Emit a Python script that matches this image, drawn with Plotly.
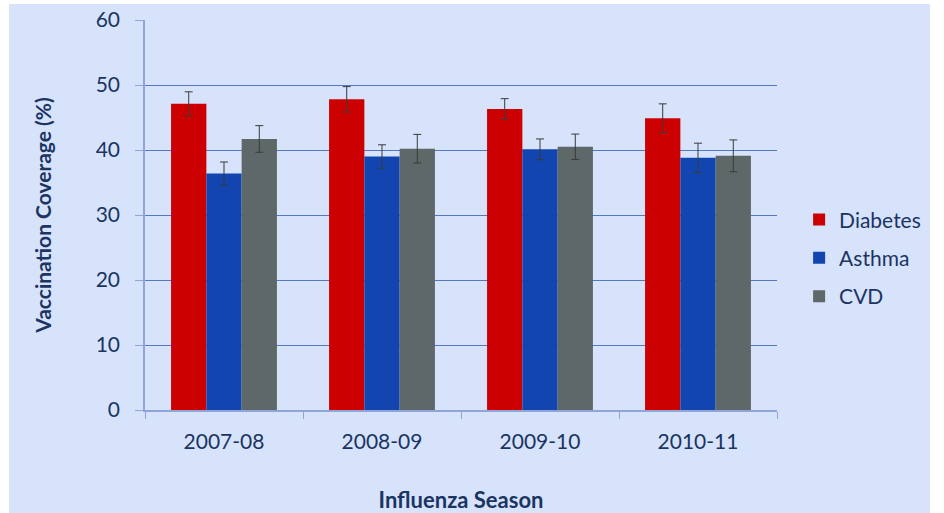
import plotly.graph_objects as go

seasons = ["2007-08", "2008-09", "2009-10", "2010-11"]
series_names = ["Diabetes", "Asthma", "CVD"]
diabetes = [47.1, 47.8, 46.3, 44.9]
diabetes_err = [1.85, 1.95, 1.6, 2.2]
asthma = [36.4, 39.0, 40.1, 38.8]
asthma_err = [1.75, 1.8, 1.6, 2.25]
cvd = [41.7, 40.2, 40.5, 39.1]
cvd_err = [2.05, 2.2, 1.95, 2.45]
colors = ["#cc0000", "#1245b0", "#5f6868"]

navy = "#1b3462"
bg = "#d6e3fb"
font = "Lato"

fig = go.Figure()
for name, vals, errs, col in zip(series_names, [diabetes, asthma, cvd],
                                 [diabetes_err, asthma_err, cvd_err], colors):
    fig.add_trace(go.Bar(
        x=seasons, y=vals, name=name, legendgroup=name,
        marker=dict(color=col, line=dict(width=0)),
        error_y=dict(type="data", array=errs, visible=True,
                     color="#3a3a3a", thickness=1, width=4),
    ))

L, R, T, B = 145, 167, 20, 103
pw, ph = 944 - L - R, 513 - T - B

fig.add_shape(type="rect", xref="paper", yref="paper", layer="below",
              x0=(9 - L) / pw, x1=(930 - L) / pw,
              y0=(410 - 520) / ph, y1=(410 - 4) / ph,
              fillcolor=bg, line=dict(width=0))

fig.update_layout(
    width=944, height=513,
    margin=dict(l=L, r=R, t=T, b=B, autoexpand=False),
    paper_bgcolor="white", plot_bgcolor=bg,
    barmode="group", bargap=0.33, bargroupgap=0,
    font=dict(family=font, color=navy, size=21),
    showlegend=True,
    legend=dict(x=1.035, y=0.39, xanchor="left", yanchor="middle",
                bgcolor="rgba(0,0,0,0)", font=dict(size=21, color=navy),
                itemwidth=30, traceorder="grouped", tracegroupgap=8),
    xaxis=dict(
        type="category", automargin=False,
        title=dict(text="<b>Influenza Season</b>", font=dict(size=22, color=navy), standoff=53),
        tickson="boundaries", ticks="outside", ticklen=7, tickcolor="#8ea5d6",
        showline=True, linecolor="#8ea5d6", linewidth=1.5,
        tickfont=dict(size=21, color=navy), tickangle=0, ticklabelstandoff=12,
        showgrid=False,
    ),
    yaxis=dict(
        automargin=False,
        title=dict(text="<b>Vaccination Coverage (%)</b>", font=dict(size=21, color=navy), standoff=38),
        range=[0, 60], dtick=10, ticks="outside", ticklen=8, tickcolor="#8ea5d6",
        showline=True, linecolor="#8ea5d6", linewidth=1.5,
        showgrid=True, gridcolor="#5578c6", gridwidth=1.2,
        zeroline=False, ticklabelstandoff=11,
        tickfont=dict(size=21, color=navy),
    ),
)

fig.write_html("out.html", config={"displayModeBar": False},
               post_script="document.body.style.margin='0';document.body.style.overflow='hidden';")
